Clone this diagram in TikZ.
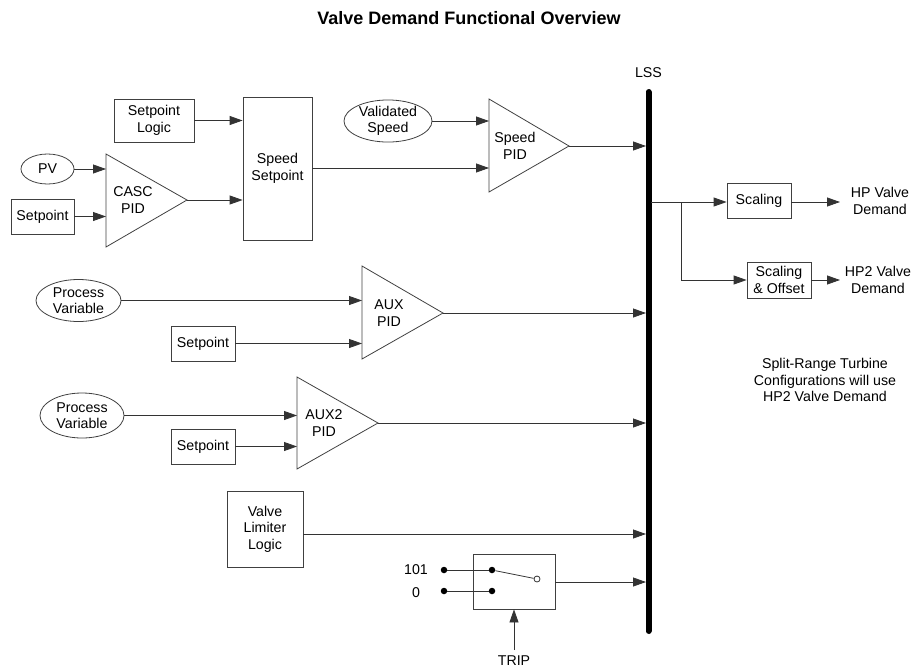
\documentclass[tikz,border=0pt]{standalone}
\usepackage{fontspec}
\setmainfont{Liberation Sans}
\usetikzlibrary{shapes.geometric,arrows.meta}
\begin{document}
\begin{tikzpicture}[x=1pt,y=-1pt,
  every node/.style={font=\fontsize{14.2}{16.5}\selectfont, align=center, inner sep=0pt},
  blk/.style={draw=black!75, line width=0.8pt, minimum width=#1},
  oval/.style={ellipse, draw=black!75, line width=0.8pt},
  tri/.style={draw=black!75, line width=0.8pt},
  wire/.style={draw=black!80, line width=0.8pt},
  arr/.style={wire, -{Triangle[length=13pt,width=9pt]}},
  bar/.style={line width=6pt, line cap=round},
  dot/.style={circle, fill=black, minimum size=6.5pt}
]
\useasboundingbox (0,0) rectangle (916,670);

% title and LSS
\node (title) at (469,18) {\fontsize{18}{21}\selectfont\bfseries Valve Demand Functional Overview};
\node (lsslbl) at (648.5,73) {LSS};
\coordinate (lsstop) at (648.5,92);
\coordinate (lssbot) at (648.5,631);
\draw[bar] (lsstop) -- (lssbot);

% top group
\node[blk=80, minimum height=43] (splog) at (154,120.5) {Setpoint\\Logic};
\node[blk=69, minimum height=143] (spd) at (277.5,168.5) {Speed\\Setpoint};
\node[oval, minimum width=53, minimum height=30] (pv) at (47.5,169) {PV};
\node[blk=63, minimum height=35] (sp1) at (42.5,216.5) {Setpoint};
\coordinate (cascA) at (106,154); \coordinate (cascB) at (106,247); \coordinate (cascC) at (187,200);
\draw[tri] (cascA) -- (cascB) -- (cascC) -- cycle;
\node (casc) at (133,200) {CASC\\PID};
\coordinate (cascIn1) at (106,169); \coordinate (cascIn2) at (106,216.5);

\node[oval, minimum width=88, minimum height=35] (vs) at (388,121) {Validated\\Speed};
\coordinate (spidA) at (489,99); \coordinate (spidB) at (489,192); \coordinate (spidC) at (569,146);
\draw[tri] (spidA) -- (spidB) -- (spidC) -- cycle;
\node (spid) at (515,146) {Speed\\PID};
\coordinate (spidIn1) at (489,121); \coordinate (spidIn2) at (489,168);

\draw[arr] (pv.east) -- (cascIn1);
\draw[arr] (sp1.east) -- (cascIn2);
\draw[arr] (splog.east) -- (splog.east -| spd.west);
\draw[arr] (cascC) -- (cascC -| spd.west);
\draw[arr] (vs.east) -- (spidIn1);
\draw[arr] (spidIn2 -| spd.east) -- (spidIn2);
\coordinate (lss1) at (646,146);
\draw[arr] (spidC) -- (lss1);

% AUX
\node[oval, minimum width=85, minimum height=42] (pv2) at (78.5,300.5) {Process\\Variable};
\node[blk=64, minimum height=35] (sp2) at (203,343.5) {Setpoint};
\coordinate (auxA) at (362,266); \coordinate (auxB) at (362,359); \coordinate (auxC) at (443,313);
\draw[tri] (auxA) -- (auxB) -- (auxC) -- cycle;
\node (aux) at (389,313) {AUX\\PID};
\coordinate (auxIn1) at (362,300.5); \coordinate (auxIn2) at (362,343.5);
\draw[arr] (pv2.east) -- (auxIn1);
\draw[arr] (sp2.east) -- (auxIn2);
\coordinate (lss2) at (646,313);
\draw[arr] (auxC) -- (lss2);

% AUX2
\node[oval, minimum width=84, minimum height=45] (pv3) at (82,415.5) {Process\\Variable};
\node[blk=64, minimum height=35] (sp3) at (203,446.5) {Setpoint};
\coordinate (aux2A) at (297,377); \coordinate (aux2B) at (297,469); \coordinate (aux2C) at (378,423);
\draw[tri] (aux2A) -- (aux2B) -- (aux2C) -- cycle;
\node (aux2) at (324,423) {AUX2\\PID};
\coordinate (aux2In1) at (297,415.5); \coordinate (aux2In2) at (297,446.5);
\draw[arr] (pv3.east) -- (aux2In1);
\draw[arr] (sp3.east) -- (aux2In2);
\coordinate (lss3) at (646,423);
\draw[arr] (aux2C) -- (lss3);

% Valve limiter
\node[blk=76, minimum height=76] (vll) at (265,529) {Valve\\Limiter\\Logic};
\coordinate (lss4) at (646,534);
\draw[arr] (vll.east |- lss4) -- (lss4);

% switch
\node[blk=82, minimum height=55] (sw) at (514,581.5) {};
\node (l101) at (416,570) {101};
\node (l0) at (416,593) {0};
\node[dot] (d1) at (444,570) {};
\node[dot] (d2) at (492,570) {};
\node[dot] (d3) at (444,591) {};
\node[dot] (d4) at (492,591) {};
\node[circle, draw=black!80, line width=0.8pt, fill=white, minimum size=6pt] (sc) at (537,579) {};
\draw[wire] (d1) -- (d2);
\draw[wire] (d3) -- (d4);
\draw[wire] (d2) -- (sc);
\coordinate (lss5) at (646,582);
\draw[arr] (sw.east |- lss5) -- (lss5);
\node (trip) at (514,660.5) {TRIP};
\coordinate (tripS) at (514,650);
\draw[arr] (tripS) -- (sw.south);

% outputs
\node[blk=64, minimum height=35] (scal) at (759,200.5) {Scaling};
\node[blk=64, minimum height=36] (scoff) at (779,280) {Scaling\\\& Offset};
\node (hp) at (880,201) {HP Valve\\Demand};
\node (hp2) at (878,280) {HP2 Valve\\Demand};
\node (note) at (825,380) {Split-Range Turbine\\Configurations will use\\HP2 Valve Demand};
\coordinate (lssout) at (651,202);
\coordinate (br) at (681,202);
\coordinate (hpend) at (840,202);
\coordinate (hp2end) at (840,280);
\draw[arr] (lssout) -- (scal.west |- lssout);
\draw[arr] (br) |- (scoff.west);
\draw[arr] (scal.east |- hpend) -- (hpend);
\draw[arr] (scoff.east |- hp2end) -- (hp2end);
\end{tikzpicture}
\end{document}
